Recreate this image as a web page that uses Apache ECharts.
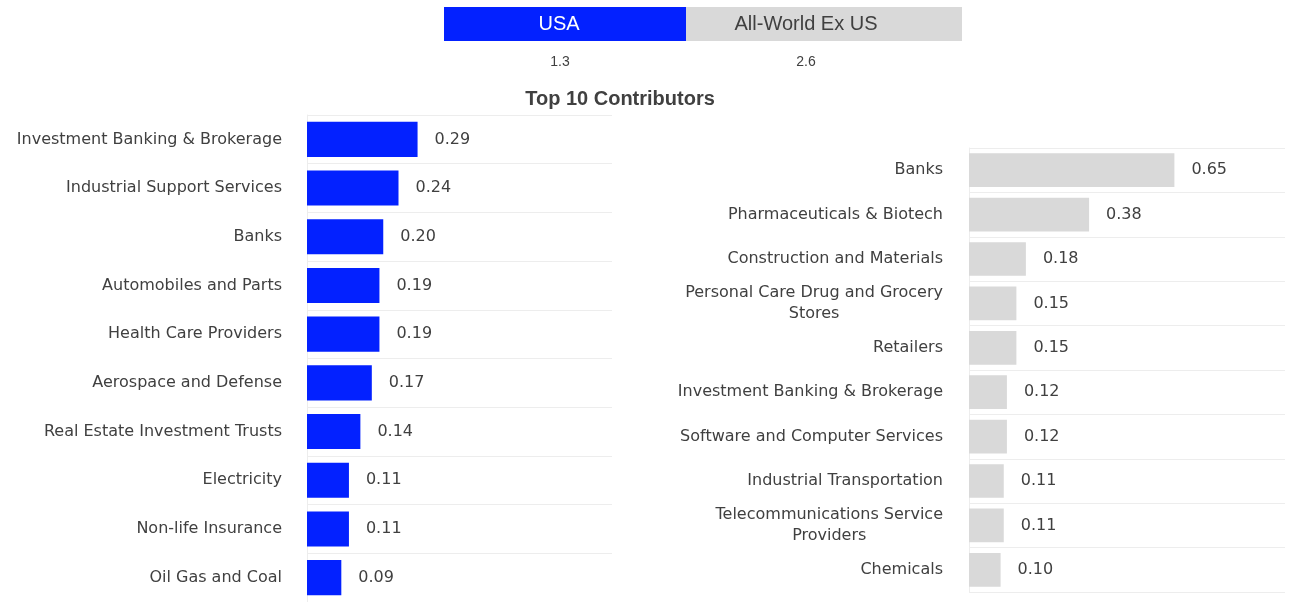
<!DOCTYPE html>
<html><head><meta charset="utf-8">
<script src="https://cdn.jsdelivr.net/npm/echarts@6/dist/echarts.min.js"></script>
<style>html,body{margin:0;padding:0;background:#fff}#c{width:1293px;height:602px}</style>
</head><body><div id="c"></div>
<script>
const groupNames = ['USA', 'All-World Ex US'];
const groupTotals = [1.3, 2.6];
const chartTitle = 'Top 10 Contributors';

const usaCategories = [
  'Investment Banking & Brokerage', 'Industrial Support Services', 'Banks',
  'Automobiles and Parts', 'Health Care Providers', 'Aerospace and Defense',
  'Real Estate Investment Trusts', 'Electricity', 'Non-life Insurance', 'Oil Gas and Coal'
];
const usaValues = [0.29, 0.24, 0.20, 0.19, 0.19, 0.17, 0.14, 0.11, 0.11, 0.09];

const worldCategories = [
  'Banks', 'Pharmaceuticals & Biotech', 'Construction and Materials',
  'Personal Care Drug and Grocery Stores', 'Retailers', 'Investment Banking & Brokerage',
  'Software and Computer Services', 'Industrial Transportation',
  'Telecommunications Service Providers', 'Chemicals'
];
const worldValues = [0.65, 0.38, 0.18, 0.15, 0.15, 0.12, 0.12, 0.11, 0.11, 0.10];

const BLUE = '#0321ff', GREY = '#d9d9d9', TXT = '#404040', LINE = '#ededed';
const LBL_FONT = 'DejaVu Sans';
const HDR_FONT = 'Liberation Sans';

const ctx = document.createElement('canvas').getContext('2d');
ctx.font = '16px "' + LBL_FONT + '"';
function wrapLabel(name, maxW) {
  if (ctx.measureText(name).width <= maxW) return name;
  const words = name.split(' ');
  const lines = []; let cur = '';
  for (const w of words) {
    const t = cur ? cur + ' ' + w : w;
    if (ctx.measureText(t).width > maxW && cur) { lines.push(cur); cur = w; }
    else cur = t;
  }
  if (cur) lines.push(cur);
  return lines.map(l => '{c|' + l + '}').join('\n');
}

const chart = echarts.init(document.getElementById('c'), null, {renderer: 'canvas'});

function catAxis(idx, cats, margin) {
  return {
    type: 'category', gridIndex: idx, data: cats, inverse: true,
    axisTick: {show: false},
    axisLine: {show: true, lineStyle: {color: LINE, width: 1}},
    splitLine: {show: true, lineStyle: {color: LINE, width: 1}},
    axisLabel: {
      margin: margin, color: TXT, fontSize: 16, fontFamily: LBL_FONT,
      formatter: v => wrapLabel(v, 275),
      rich: {c: {align: 'center', color: TXT, fontSize: 16, fontFamily: LBL_FONT, lineHeight: 21}}
    }
  };
}
function valAxis(idx, max) {
  return {
    type: 'value', gridIndex: idx, min: 0, max: max,
    axisLine: {show: false}, axisTick: {show: false},
    axisLabel: {show: false}, splitLine: {show: false}
  };
}
function barSeries(idx, vals, color, gap) {
  return {
    type: 'bar', xAxisIndex: idx, yAxisIndex: idx, data: vals,
    barCategoryGap: gap, itemStyle: {color: color},
    label: {
      show: true, position: 'right', distance: 17, color: TXT,
      fontSize: 16, fontFamily: LBL_FONT, formatter: p => p.value.toFixed(2)
    },
    silent: true, animation: false
  };
}

const option = {
  animation: false,
  grid: [
    {left: 307, top: 115, width: 305, height: 488},
    {left: 969, top: 148, width: 316, height: 444}
  ],
  xAxis: [valAxis(0, 0.8), valAxis(1, 1.0)],
  yAxis: [catAxis(0, usaCategories, 25), catAxis(1, worldCategories, 26)],
  series: [barSeries(0, usaValues, BLUE, '28%'), barSeries(1, worldValues, GREY, '24%')],
  graphic: [
    {type: 'rect', shape: {x: 444, y: 7, width: 242, height: 34}, style: {fill: BLUE}},
    {type: 'rect', shape: {x: 686, y: 7, width: 276, height: 34}, style: {fill: GREY}},
    {type: 'text', x: 559, y: 24, style: {text: groupNames[0], align: 'center', verticalAlign: 'middle', fill: '#ffffff', font: '20px "' + HDR_FONT + '"'}},
    {type: 'text', x: 806, y: 24, style: {text: groupNames[1], align: 'center', verticalAlign: 'middle', fill: TXT, font: '20px "' + HDR_FONT + '"'}},
    {type: 'text', x: 560, y: 62, style: {text: groupTotals[0].toFixed(1), align: 'center', verticalAlign: 'middle', fill: TXT, font: '14px "' + HDR_FONT + '"'}},
    {type: 'text', x: 806, y: 62, style: {text: groupTotals[1].toFixed(1), align: 'center', verticalAlign: 'middle', fill: TXT, font: '14px "' + HDR_FONT + '"'}},
    {type: 'text', x: 620, y: 99, style: {text: chartTitle, align: 'center', verticalAlign: 'middle', fill: TXT, font: 'bold 20px "' + HDR_FONT + '"'}}
  ]
};
chart.setOption(option);
</script></body></html>
